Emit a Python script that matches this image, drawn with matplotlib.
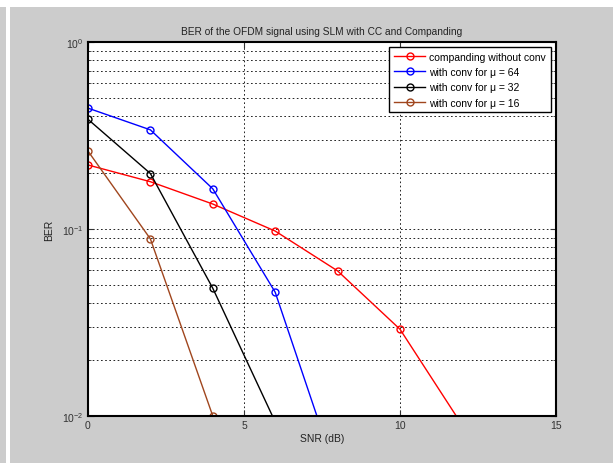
import matplotlib.pyplot as plt
from matplotlib.patches import Rectangle
from matplotlib.ticker import LogLocator, NullFormatter

plt.rcParams["font.family"] = ["Liberation Sans", "DejaVu Sans"]

# SNR points (dB) and BER
snr_red = [0, 2, 4, 6, 8, 10, 12]
ber_red = [0.22, 0.179, 0.136, 0.0975, 0.0597, 0.0291, 0.0089]

snr_blue = [0, 2, 4, 6, 8]
ber_blue = [0.443, 0.339, 0.164, 0.0459, 0.0047]

snr_black = [0, 2, 4, 6]
ber_black = [0.386, 0.198, 0.0482, 0.0093]

snr_brown = [0, 2, 4]
ber_brown = [0.261, 0.0885, 0.01]

labels = [
    "companding without conv",
    "with conv for \u03bc = 64",
    "with conv for \u03bc = 32",
    "with conv for \u03bc = 16",
]
colors = ["#ff0000", "#0000ff", "#000000", "#a0461e"]

fig = plt.figure(figsize=(6.13, 4.64), dpi=100)
fig.set_facecolor("#cccccc")
# white strips like the screenshot border
fig.patches.append(Rectangle((0, 1 - 8 / 464), 1, 8 / 464, transform=fig.transFigure,
                             facecolor="white", edgecolor="none", zorder=-1))
fig.patches.append(Rectangle((6 / 613, 0), 4 / 613, 1, transform=fig.transFigure,
                             facecolor="white", edgecolor="none", zorder=-1))
fig.patches.append(Rectangle((0, 1 - 5 / 464), 6 / 613, 5 / 464, transform=fig.transFigure,
                             facecolor="white", edgecolor="none", zorder=-1))

ax = fig.add_axes([88 / 613, 1 - 417 / 464, 468 / 613, 374 / 464])
ax.set_facecolor("white")

series = [
    (snr_red, ber_red),
    (snr_blue, ber_blue),
    (snr_black, ber_black),
    (snr_brown, ber_brown),
]
for (x, y), c, lab in zip(series, colors, labels):
    ax.semilogy(x, y, "-o", color=c, lw=1.0, ms=5, mfc="none", mew=1.0, label=lab)

ax.set_xlim(0, 15)
ax.set_ylim(1e-2, 1)
ax.set_xticks([0, 5, 10, 15])
ax.yaxis.set_major_locator(LogLocator(base=10, numticks=5))
ax.yaxis.set_minor_locator(LogLocator(base=10, subs=range(2, 10), numticks=20))
ax.yaxis.set_minor_formatter(NullFormatter())

ax.grid(True, which="major", ls=(0, (2, 3)), color="black", lw=0.6)
ax.grid(True, which="minor", axis="y", ls=(0, (2, 3)), color="black", lw=0.6)
ax.tick_params(which="both", direction="in", top=True, right=True, labelsize=7.5,
               colors="#333333", pad=3)
ax.tick_params(which="major", length=4)
ax.tick_params(which="minor", length=2)
for sp in ax.spines.values():
    sp.set_linewidth(1.5)
    sp.set_color("black")

ax.set_title("BER of the OFDM signal using SLM with CC and Companding", fontsize=7.3,
             color="#222222", pad=6)
ax.set_xlabel("SNR (dB)", fontsize=7.5, color="#222222", labelpad=2)
ax.set_ylabel("BER", fontsize=7.5, color="#222222", labelpad=6)

leg = ax.legend(loc="upper right", fontsize=7.5, frameon=True, fancybox=False,
                edgecolor="black", framealpha=1, borderpad=0.45, labelspacing=0.5,
                handlelength=3.0, handletextpad=0.4, borderaxespad=0.5)
leg.get_frame().set_linewidth(1.0)

fig.savefig("out.png", dpi=100, facecolor=fig.get_facecolor())
